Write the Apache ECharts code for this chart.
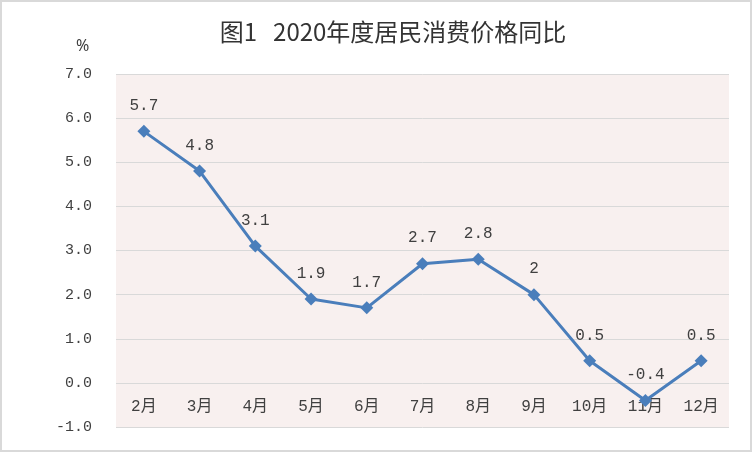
<!DOCTYPE html>
<html>
<head>
<meta charset="utf-8">
<script src="https://cdn.jsdelivr.net/npm/echarts@6/dist/echarts.min.js"></script>
<style>
  html, body { margin: 0; padding: 0; background: #fff; }
  #chart { width: 752px; height: 452px; }
</style>
</head>
<body>
<div id="chart"></div>
<script>
// data
const months = ['2月', '3月', '4月', '5月', '6月', '7月', '8月', '9月', '10月', '11月', '12月'];
const cpiYoY = [5.7, 4.8, 3.1, 1.9, 1.7, 2.7, 2.8, 2, 0.5, -0.4, 0.5];
const yTicks = { min: -1, max: 7, step: 1 };

const numFont = '"Liberation Mono", "Noto Sans CJK SC", monospace';
const textColor = '#404040';

const chart = echarts.init(document.getElementById('chart'), null, { renderer: 'canvas' });

// x axis sits on the 0 line: one step up from the bottom of the grid
const plotHeight = 452 - 74 - 25;
const zeroOffset = -plotHeight * (0 - yTicks.min) / (yTicks.max - yTicks.min);

chart.setOption({
    animation: false,
    backgroundColor: '#fff',
    title: {
        text: '图1   2020年度居民消费价格同比',
        left: 388,
        textAlign: 'center',
        top: 15,
        textStyle: {
            fontFamily: '"Noto Sans CJK SC", sans-serif',
            fontSize: 24,
            fontWeight: 'normal',
            color: '#333'
        }
    },
    graphic: [
        {
            type: 'rect',
            shape: { x: 1, y: 1, width: 750, height: 450 },
            style: { fill: 'none', stroke: '#d9d9d9', lineWidth: 2 },
            silent: true
        },
        {
            type: 'text',
            left: 76,
            top: 38,
            style: { text: '%', fontSize: 16, fontFamily: '"Noto Sans", sans-serif', fill: textColor }
        }
    ],
    grid: {
        left: 116,
        right: 23,
        top: 74,
        bottom: 25,
        outerBoundsMode: 'none',
        containLabel: false,
        show: true,
        backgroundColor: '#f8f0ef',
        borderWidth: 0
    },
    xAxis: {
        type: 'category',
        data: months,
        boundaryGap: true,
        offset: zeroOffset,
        axisLine: { show: false, onZero: false },
        axisTick: { show: false },
        axisLabel: {
            margin: 16,
            fontSize: 16,
            fontFamily: numFont,
            color: textColor
        }
    },
    yAxis: {
        type: 'value',
        min: yTicks.min,
        max: yTicks.max,
        interval: yTicks.step,
        axisLine: { show: false },
        axisTick: { show: false },
        splitLine: { lineStyle: { color: '#d9d9d9', width: 1 } },
        axisLabel: {
            margin: 24,
            fontSize: 15,
            fontFamily: numFont,
            color: textColor,
            formatter: v => v.toFixed(1)
        }
    },
    series: [{
        type: 'line',
        data: cpiYoY,
        symbol: 'diamond',
        symbolSize: 13,
        itemStyle: { color: '#4a7ebb' },
        lineStyle: { color: '#4a7ebb', width: 3 },
        label: {
            show: true,
            position: 'top',
            distance: 11,
            fontSize: 16,
            fontFamily: numFont,
            color: textColor
        }
    }]
});
</script>
</body>
</html>
